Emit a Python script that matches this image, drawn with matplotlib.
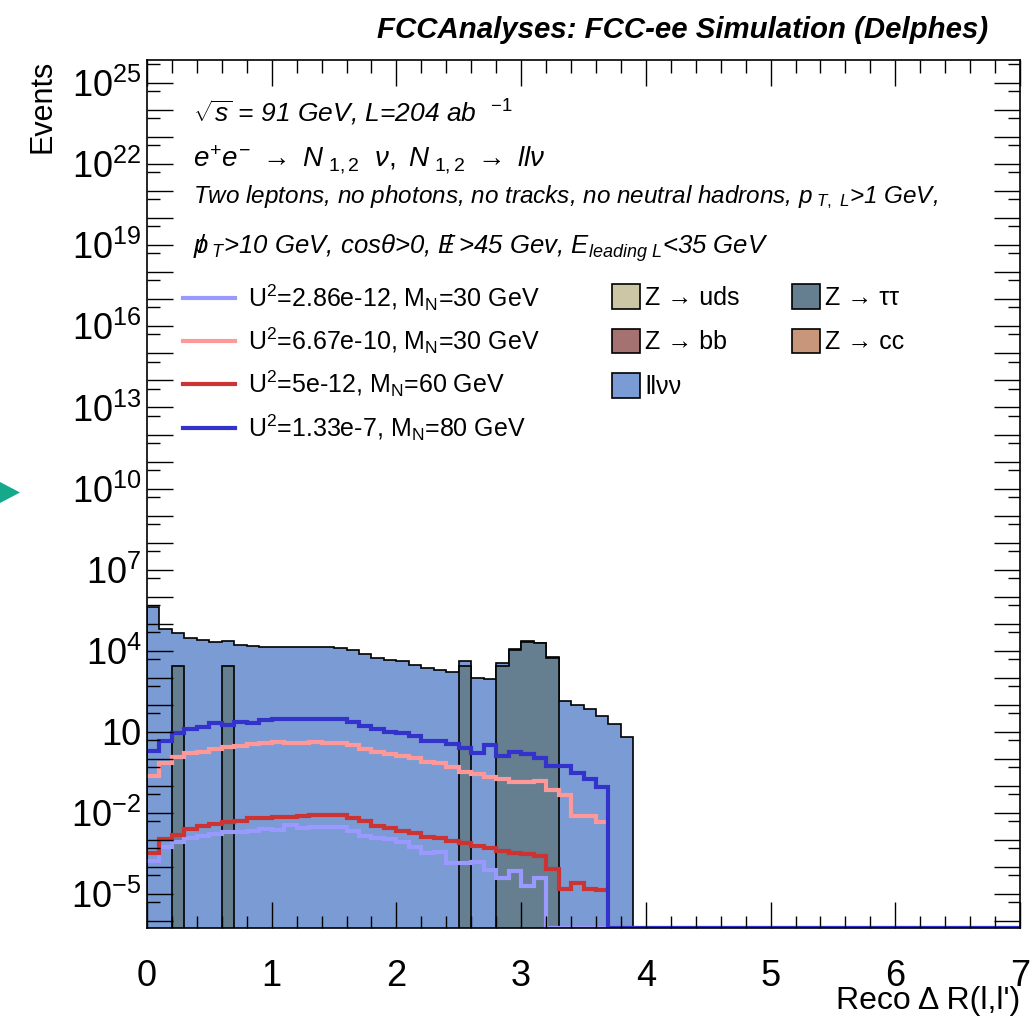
import numpy as np
import matplotlib
matplotlib.use("Agg")
import matplotlib.pyplot as plt
from matplotlib.ticker import FixedLocator, FuncFormatter, MultipleLocator, NullFormatter
from matplotlib.patches import Patch, Polygon
from matplotlib.lines import Line2D

plt.rcParams['font.family'] = ['Liberation Sans', 'DejaVu Sans']
plt.rcParams['mathtext.fontset'] = 'custom'
plt.rcParams['mathtext.rm'] = 'Liberation Sans'
plt.rcParams['mathtext.it'] = 'Liberation Sans:italic'
plt.rcParams['mathtext.bf'] = 'Liberation Sans:bold'

# bin edges of Reco Delta R(l,l'), 0.1 wide
edges = np.round(np.arange(0, 7.05, 0.1), 1)

# backgrounds, events per bin (first 39 bins, 0 - 3.9)
llvv = [4.27e5, 6.46e4, 4.40e4, 2.88e4, 2.51e4, 2.09e4, 1.96e4, 1.62e4, 1.51e4, 1.35e4,
        1.35e4, 1.35e4, 1.35e4, 1.35e4, 1.35e4, 1.23e4, 1.07e4, 7.59e3, 5.25e3, 4.57e3,
        4.17e3, 2.95e3, 2.29e3, 1.95e3, 1.66e3, 1.32e3, 955, 891, 880, 700,
        550, 400, 250, 145, 100, 72.4, 38.9, 19.1, 6.76]
tautau = [0, 0, 2750, 0, 0, 0, 2750, 0, 0, 0,
          0, 0, 0, 0, 0, 0, 0, 0, 0, 0,
          0, 0, 0, 0, 0, 2750, 0, 0, 2750, 11000,
          22000, 19250, 5500, 0, 0, 0, 0, 0, 0]

# signal samples
sig_a = [1.74e-4, 5.75e-4, 8.3e-4, 1.17e-3, 1.48e-3, 1.70e-3, 1.95e-3, 2.04e-3, 2.24e-3, 2.51e-3,
         2.34e-3, 3.55e-3, 2.82e-3, 3.16e-3, 3.16e-3, 3.16e-3, 2.24e-3, 1.48e-3, 1.17e-3, 1.10e-3,
         8.7e-4, 5.75e-4, 3.24e-4, 3.72e-4, 1.48e-4, 1.48e-4, 1.58e-4, 7.8e-5, 3.9e-5, 7.2e-5,
         2.0e-5, 3.9e-5]
sig_b = [0.24, 0.69, 1.23, 1.62, 1.86, 2.40, 2.69, 3.09, 3.55, 3.98,
         4.37, 3.98, 3.98, 4.37, 3.98, 3.98, 3.31, 2.29, 1.78, 1.55,
         1.32, 1.07, 0.79, 0.69, 0.49, 0.34, 0.28, 0.21, 0.18, 0.14,
         0.14, 0.16, 0.071, 0.045, 0.0081, 0.0081, 0.0046]
sig_c = [3.4e-4, 1.07e-3, 1.55e-3, 2.5e-3, 3.2e-3, 3.8e-3, 4.6e-3, 5.2e-3, 6.5e-3, 6.8e-3,
         7.4e-3, 7.4e-3, 7.8e-3, 8.3e-3, 8.3e-3, 8.3e-3, 6.5e-3, 4.9e-3, 3.2e-3, 2.8e-3,
         2.2e-3, 1.9e-3, 1.35e-3, 1.17e-3, 9.5e-4, 7.6e-4, 6.0e-4, 5.0e-4, 4.1e-4, 3.2e-4,
         3.1e-4, 2.5e-4, 8.3e-5, 1.55e-5, 2.7e-5, 1.55e-5, 1.45e-5]
sig_d = [2.0, 4.8, 9.5, 12.6, 14.8, 20.9, 18.6, 23.4, 20.9, 26.9,
         30.9, 30.9, 30.9, 30.9, 30.9, 30.9, 22.4, 16.6, 12.6, 10.0,
         9.5, 6.8, 4.8, 4.8, 3.5, 2.5, 1.6, 3.2, 1.3, 1.8,
         1.5, 1.07, 0.54, 0.54, 0.30, 0.18, 0.089]

sig_labels = [r'U$^{2}$=2.86e-12, M$_{\rm N}$=30 GeV',
              r'U$^{2}$=6.67e-10, M$_{\rm N}$=30 GeV',
              r'U$^{2}$=5e-12, M$_{\rm N}$=60 GeV',
              r'U$^{2}$=1.33e-7, M$_{\rm N}$=80 GeV']
sig_colors = ['#9999ff', '#ff9999', '#cc3333', '#3333cc']

bkg_labels = ['Z → uds', 'Z → bb', 'llνν', 'Z → ττ', 'Z → cc']
bkg_colors = ['#ccc6a6', '#a57272', '#7b9bd4', '#657e90', '#c8967a']

ymin, ymax = 10**-6.25, 10**25.85
floor = 1e-7

fig = plt.figure(figsize=(10.34, 10.17), dpi=100)
ax = fig.add_axes([147/1034, 1 - 928/1017, 873/1034, 868/1017])

# stacked backgrounds: tautau at the bottom, llvv on top
n_bkg = len(llvv)
total = np.array(llvv) + np.array(tautau)
tt = np.array(tautau, dtype=float)
ax.stairs(total, edges[:n_bkg + 1], baseline=floor, fill=True,
          facecolor=bkg_colors[2], edgecolor='none')
ax.stairs(total, edges[:n_bkg + 1], baseline=floor, fill=False,
          color='black', lw=1.2)
ax.stairs(np.where(tt > 0, tt, floor), edges[:n_bkg + 1], baseline=floor, fill=True,
          facecolor=bkg_colors[3], edgecolor='none')
ax.stairs(np.where(tt > 0, tt, floor), edges[:n_bkg + 1], baseline=floor, fill=False,
          color='black', lw=1.2)

# signal curves; empty bins sit on the bottom of the frame
for vals, col, full in zip([sig_a, sig_b, sig_c, sig_d], sig_colors, [True, False, False, True]):
    v = np.array(vals, dtype=float)
    if full:
        v = np.concatenate([v, np.zeros(len(edges) - 1 - len(v))])
    v = np.where(v > 0, v, ymin)
    ax.stairs(v, edges[:len(v) + 1], baseline=None, color=col, lw=3)

ax.set_yscale('log')
ax.set_xlim(0, 7)
ax.set_ylim(ymin, ymax)

decades = np.arange(-6, 26)
ax.yaxis.set_major_locator(FixedLocator(10.0 ** decades))
ax.yaxis.set_minor_locator(FixedLocator(5 * 10.0 ** decades))
ax.yaxis.set_minor_formatter(NullFormatter())


def ylab(v, pos):
    k = int(round(np.log10(v)))
    if (k - 1) % 3 != 0:
        return ''
    if k == 1:
        return '10'
    return r'$10^{%d}$' % k


ax.yaxis.set_major_formatter(FuncFormatter(ylab))
ax.xaxis.set_major_locator(FixedLocator(range(8)))
ax.xaxis.set_minor_locator(MultipleLocator(0.2))

ax.tick_params(which='both', direction='in', top=True, right=True, width=1)
ax.tick_params(which='major', length=19)
ax.tick_params(which='minor', length=9)
ax.tick_params(axis='y', which='major', labelsize=26, pad=4)
ax.tick_params(axis='x', which='major', labelsize=26, pad=22)
for s in ax.spines.values():
    s.set_linewidth(1.2)

ax.set_xlabel("Reco Δ R(l,l')", fontsize=23, loc='right')
ax.xaxis.label.set_verticalalignment('center')
ax.xaxis.set_label_coords(1.0, -73/868)
ax.set_ylabel('Events', fontsize=22, loc='top', labelpad=10)

# legends
h_sig = [Line2D([], [], color=c, lw=3) for c in sig_colors]
leg1 = ax.legend(h_sig, sig_labels, loc='upper left', bbox_to_anchor=(0.0412, 0.7435),
                 frameon=False, fontsize=18, handlelength=2.1, handletextpad=0.5,
                 labelspacing=0.5, borderpad=0, borderaxespad=0)
ax.add_artist(leg1)
h_b1 = [Patch(facecolor=c, edgecolor='black', lw=1.2) for c in bkg_colors[:3]]
leg2 = ax.legend(h_b1, bkg_labels[:3], loc='upper left', bbox_to_anchor=(0.533, 0.7415),
                 frameon=False, fontsize=18, handlelength=1.12, handleheight=1.12,
                 handletextpad=0.2, labelspacing=0.75, borderpad=0, borderaxespad=0)
ax.add_artist(leg2)
h_b2 = [Patch(facecolor=c, edgecolor='black', lw=1.2) for c in bkg_colors[3:]]
ax.legend(h_b2, bkg_labels[3:], loc='upper left', bbox_to_anchor=(0.739, 0.7415),
          frameon=False, fontsize=18, handlelength=1.12, handleheight=1.12,
          handletextpad=0.2, labelspacing=0.75, borderpad=0, borderaxespad=0)

# labels inside the frame
ax.text(0.0527, 0.939, r'$\sqrt{s}$ = 91 GeV, L=204 ab  $^{-1}$', transform=ax.transAxes,
        fontsize=19, style='italic', va='center')
ax.text(0.0527, 0.885,
        r'$e^{+}e^{-}\ \rightarrow\ N_{\ 1,2}\ \ \nu,\ N_{\ 1,2}\ \rightarrow\ ll\nu$',
        transform=ax.transAxes, fontsize=20, va='center')
ax.text(0.0527, 0.842,
        r'Two leptons, no photons, no tracks, no neutral hadrons, $p_{\ T,\ L}$>1 GeV,',
        transform=ax.transAxes, fontsize=17.5, style='italic', va='center')
ax.text(0.0527, 0.783,
        r'${p\!\!\!/\,\,}_{T}$>10 GeV, cos$\theta$>0, ${E\!\!\!/\,\,}$>45 Gev, $E_{leading\ L}$<35 GeV',
        transform=ax.transAxes, fontsize=18.5, style='italic', va='center')

fig.text(988/1034, 1 - 30/1017, 'FCCAnalyses: FCC-ee Simulation (Delphes)',
         ha='right', va='center', fontsize=21.2, weight='bold', style='italic')

# marker on the left margin
fig.patches.append(Polygon([(0, 1 - 482/1017), (20/1034, 1 - 492.5/1017), (0, 1 - 503/1017)],
                           closed=True, transform=fig.transFigure, facecolor='#14a98a',
                           edgecolor='none'))

fig.savefig('out.png', dpi=100)
